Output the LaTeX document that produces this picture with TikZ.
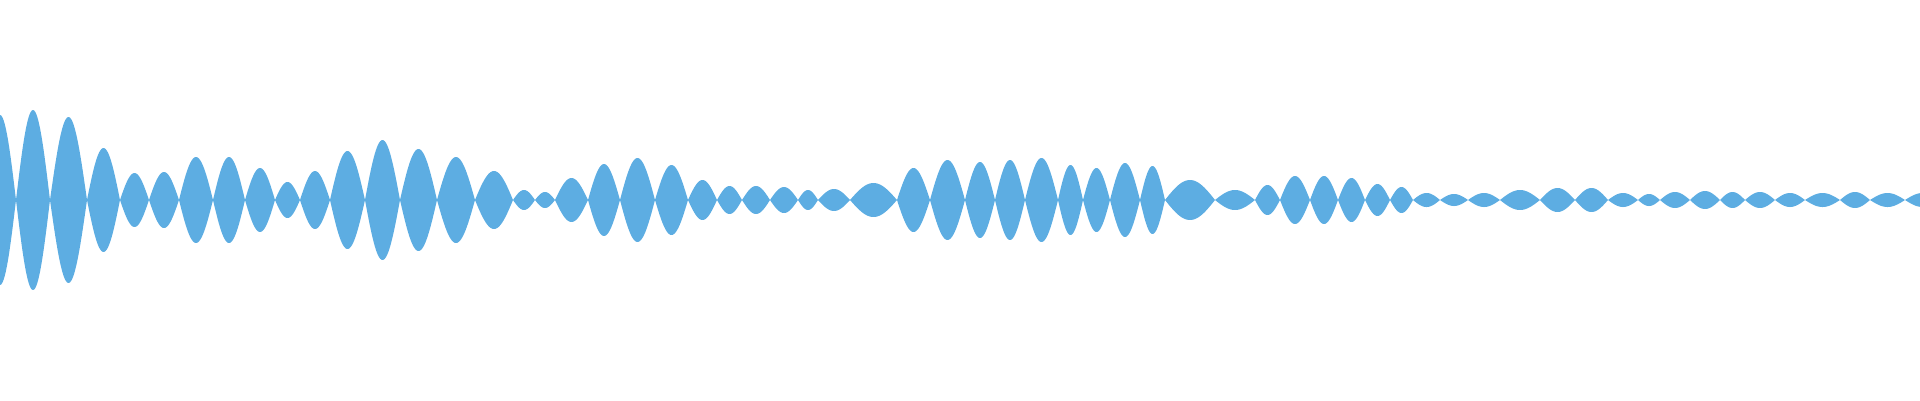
\documentclass[tikz,border=0pt]{standalone}
\begin{document}
\definecolor{wave}{RGB}{93,173,226}
\begin{tikzpicture}[x=1pt,y=-1pt]
\useasboundingbox (0,0) rectangle (1920,400);
\tikzset{lobe/.style={fill=wave,draw=none}}
\foreach \a/\b/\t in {-16/16/115,16/50/110,50/87/117,87/120/148,120/149/173,149/179/172,179/213/157,213/245/157,245/275/168,275/300/182,300/330/171,330/365/151,365/400/140,400/437/149,437/475/157,475/513/171,513/535/190,535/555/192,555/588/178,588/620/164,620/655/158,655/688/165,688/717/180,717/742/186,742/770/186,770/798/187,798/818/190,818/850/189,850/897/183,897/930/168,930/965/160,965/995/162,995/1025/160,1025/1058/158,1058/1083/165,1083/1110/168,1110/1140/163,1140/1165/166,1165/1215/180,1215/1255/190,1255/1280/185,1280/1310/176,1310/1338/176,1338/1365/178,1365/1390/184,1390/1413/187,1413/1440/193,1440/1468/194,1468/1500/193,1500/1540/190,1540/1575/188,1575/1608/188,1608/1638/193,1638/1660/194,1660/1690/192,1690/1720/191,1720/1745/192,1745/1775/192,1775/1805/193,1805/1840/193,1840/1870/192,1870/1905/193,1905/1940/193}{
  \pgfmathsetmacro\h{200-\t}
  \fill[lobe] plot[domain=0:180,samples=40] ({\a+(\b-\a)*\x/180},{200-\h*sin(\x)}) -- plot[domain=180:0,samples=40] ({\a+(\b-\a)*\x/180},{200+\h*sin(\x)}) -- cycle;
}
\end{tikzpicture}
\end{document}
